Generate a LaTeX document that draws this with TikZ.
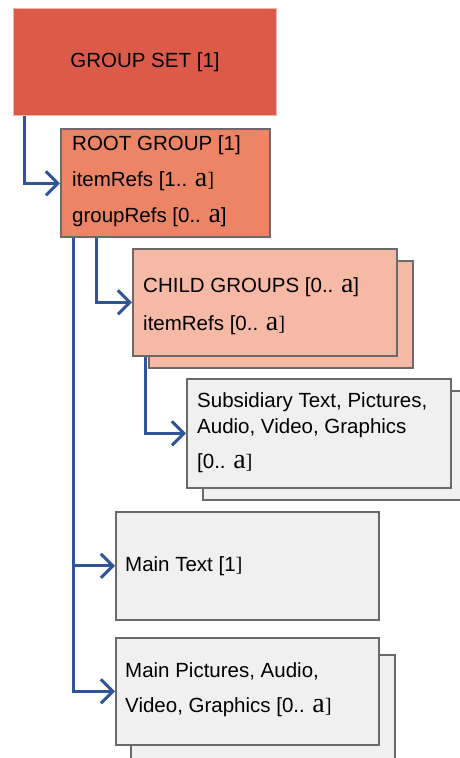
\documentclass[tikz,border=0pt]{standalone}
\usepackage{fontspec}
\setmainfont{Liberation Sans}
\newfontfamily\serifa{Liberation Serif}
\usetikzlibrary{arrows.meta,positioning}

\definecolor{setred}{HTML}{DC5A48}
\definecolor{rootred}{HTML}{EC8465}
\definecolor{childpink}{HTML}{F5B9A5}
\definecolor{itemgray}{HTML}{F0F0F0}
\definecolor{boxgray}{HTML}{6A6A6A}
\definecolor{linkblue}{HTML}{2F5597}

% the many-sign and the thin bracket after it
\newcommand{\many}{{\serifa\fontsize{28}{28}\selectfont a}}
\newcommand{\rbr}{{\serifa ]}}

\begin{document}
\begin{tikzpicture}
        [x=1pt,y=-1pt,font=\fontsize{20.5}{24}\selectfont,
         box/.style={draw=boxgray,line width=1.7pt,anchor=north west,inner sep=0pt,
                     minimum width=264pt,minimum height=107pt},
         line/.style={anchor=base west,inner sep=0pt},
         link/.style={draw=linkblue,line width=3pt,
                      -{Straight Barb[length=12pt,width=24pt,line width=3pt]}}]
        \clip (0,0) rectangle (460,758);

        \node [box,name=gs,fill=setred,draw=setred!45!white,line width=1pt,minimum width=263pt] at (13,8) {};
        \node [name=gsText] at (gs.center) {GROUP SET [1]};

        \node [box,name=rg,fill=rootred,minimum width=209pt,minimum height=108pt] at (60,128) {};
        \node [line,name=rgTitle] at (72,150) {ROOT GROUP [1]};
        \node [line,name=rgItems] at (72,186) {itemRefs [1.. \many\rbr};
        \node [line,name=rgGroups] at (72,222) {groupRefs [0.. \many]};

        \node [box,name=chBack,fill=childpink] at (148,260) {};
        \node [box,name=ch,fill=childpink] at (132,248) {};
        \node [line,name=chTitle] at (143,292) {CHILD GROUPS [0.. \many]};
        \node [line,name=chItems] at (143,330) {itemRefs [0.. \many\rbr};

        \node [box,name=subBack,fill=itemgray,minimum height=109pt] at (202,390) {};
        \node [box,name=sub,fill=itemgray,minimum height=109pt] at (186,378) {};
        \node [line,name=subA] at (197,407) {Subsidiary Text, Pictures,};
        \node [line,name=subB] at (197,433) {Audio, Video, Graphics};
        \node [line,name=subC] at (197,468) {[0.. \many\rbr};

        \node [box,name=mt,fill=itemgray,minimum width=263pt,minimum height=108pt] at (115,511) {};
        \node [line,name=mtText] at (125,571) {Main Text [1\rbr};

        \node [box,name=mpBack,fill=itemgray] at (130,654) {};
        \node [box,name=mp,fill=itemgray,minimum width=263pt] at (115,637) {};
        \node [line,name=mpA] at (125,677) {Main Pictures, Audio,};
        \node [line,name=mpB] at (125,712) {Video, Graphics [0.. \many\rbr};

        \path [link] ([xshift=11pt]gs.south west) |- (rgItems.mid west -| rg.west);
        \path [link] ([xshift=36pt]rg.south west) |- (ch.west);
        \path [link] ([xshift=13pt]ch.south west) |- (sub.west);
        \path [link] ([xshift=13pt]rg.south west) |- (mt.west);
        \path [link] ([xshift=13pt]rg.south west) |- (mp.west);
    \end{tikzpicture}
\end{document}
